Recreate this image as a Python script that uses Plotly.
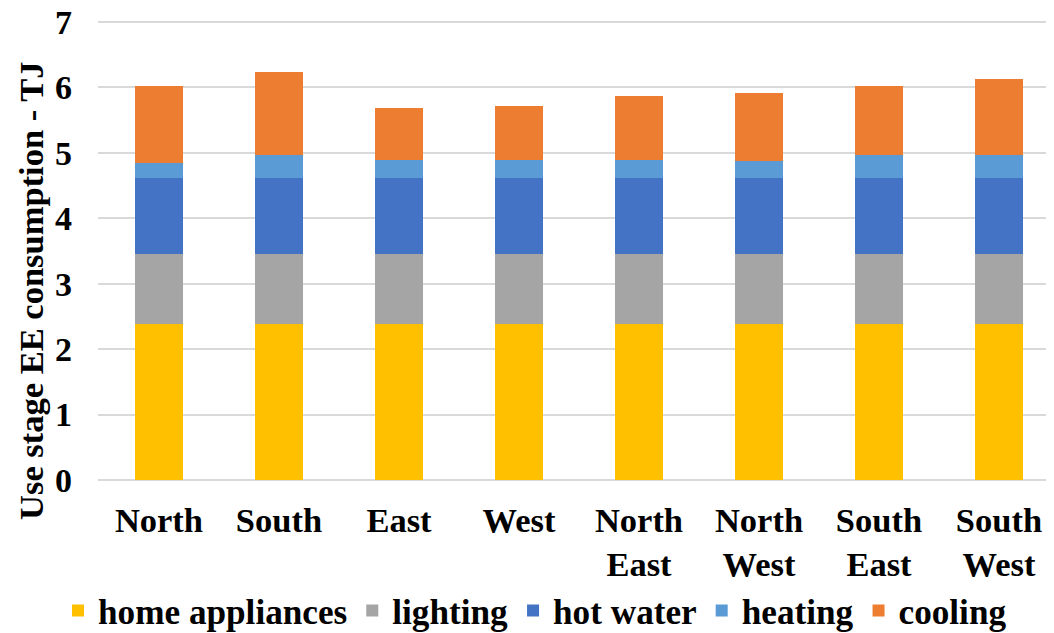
import plotly.graph_objects as go

regions = ["North", "South", "East", "West", "North<br>East", "North<br>West", "South<br>East", "South<br>West"]
home_appliances = [2.38, 2.38, 2.38, 2.38, 2.38, 2.38, 2.38, 2.38]
lighting = [1.07, 1.07, 1.07, 1.07, 1.07, 1.07, 1.07, 1.07]
hot_water = [1.16, 1.16, 1.16, 1.16, 1.16, 1.16, 1.16, 1.16]
heating = [0.23, 0.36, 0.28, 0.28, 0.28, 0.26, 0.35, 0.36]
cooling = [1.18, 1.27, 0.80, 0.83, 0.98, 1.04, 1.06, 1.16]

series = [
    ("home appliances", home_appliances, "#FFC000"),
    ("lighting", lighting, "#A5A5A5"),
    ("hot water", hot_water, "#4472C4"),
    ("heating", heating, "#5B9BD5"),
    ("cooling", cooling, "#ED7D31"),
]

fig = go.Figure()
for name, vals, col in series:
    fig.add_trace(go.Bar(x=regions, y=vals, name=name, marker_color=col,
                         marker_line_width=0))

FONT = "Liberation Serif"
fig.update_layout(
    width=1054, height=633,
    margin=dict(l=90, r=0, t=12, b=161, autoexpand=False),
    barmode="stack", bargap=0.6,
    plot_bgcolor="white", paper_bgcolor="white",
    font=dict(family=FONT, size=34, color="black", weight="bold"),
    legend=dict(orientation="h", traceorder="normal", x=-0.0415, xanchor="left",
                y=-0.284, yanchor="middle",
                font=dict(family=FONT, size=35.2, color="black", weight="bold")),
    xaxis=dict(range=[-0.508, 7.525], showgrid=False, showline=False, ticks="",
               automargin=False,
               tickfont=dict(family=FONT, size=34.5, color="black", weight="bold"),
               ticklabelstandoff=16),
    yaxis=dict(range=[0, 7.03], tickvals=[0, 1, 2, 3, 4, 5, 6, 7],
               showgrid=True, gridcolor="#D9D9D9", gridwidth=1.5,
               zeroline=True, zerolinecolor="#D9D9D9", zerolinewidth=1.5,
               showline=False, ticks="", automargin=False,
               ticklabeloverflow="allow",
               tickfont=dict(family=FONT, size=34, color="black", weight="bold"),
               ticklabelstandoff=25),
    annotations=[dict(text="Use stage EE consumption - TJ", textangle=-90,
                      xref="paper", yref="paper", x=-0.0695, y=0.411,
                      xanchor="center", yanchor="middle", showarrow=False,
                      font=dict(family=FONT, size=34.5, color="black", weight="bold"))],
)

fig.write_html("out.html")
